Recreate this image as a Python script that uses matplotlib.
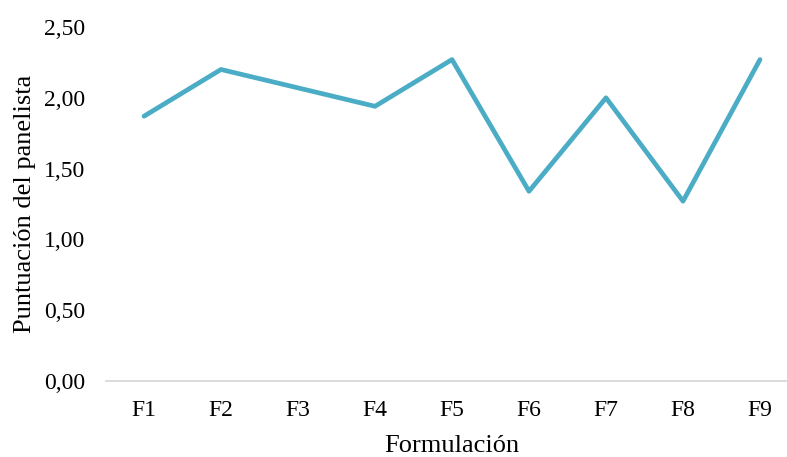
import matplotlib
matplotlib.use("Agg")
import matplotlib.pyplot as plt
from matplotlib.ticker import FuncFormatter

categories = ["F1", "F2", "F3", "F4", "F5", "F6", "F7", "F8", "F9"]
scores = [1.87, 2.20, 2.07, 1.94, 2.27, 1.34, 2.00, 1.27, 2.27]

plt.rcParams["font.family"] = ["Liberation Serif", "DejaVu Serif"]

W, H = 787, 457
fig = plt.figure(figsize=(W / 100, H / 100), dpi=100)
left, right, bottom, top = 105.5, 798.5, 381, 27
ax = fig.add_axes([left / W, (H - bottom) / H, (right - left) / W, (bottom - top) / H])

x = list(range(len(categories)))
ax.plot(x, scores, color="#4BACC6", linewidth=3.4, solid_joinstyle="round",
        solid_capstyle="round")

ax.set_xlim(-0.5, len(categories) - 0.5)
ax.set_ylim(0, 2.5)
ax.set_yticks([0, 0.5, 1.0, 1.5, 2.0, 2.5])
ax.yaxis.set_major_formatter(FuncFormatter(lambda v, p: f"{v:.2f}".replace(".", ",")))
ax.set_xticks(x)
ax.set_xticklabels(categories)

for s in ["top", "right", "left"]:
    ax.spines[s].set_visible(False)
ax.spines["bottom"].set_color("#D9D9D9")
ax.spines["bottom"].set_linewidth(1.3)
ax.tick_params(axis="both", length=0, labelsize=17, colors="black")
ax.tick_params(axis="y", pad=14.5)
ax.tick_params(axis="x", pad=13.5)

ax.set_xlabel("Formulación", fontsize=19, labelpad=10)
ax.set_ylabel("Puntuación del panelista", fontsize=19, labelpad=6)

fig.savefig("out.png", dpi=100)
